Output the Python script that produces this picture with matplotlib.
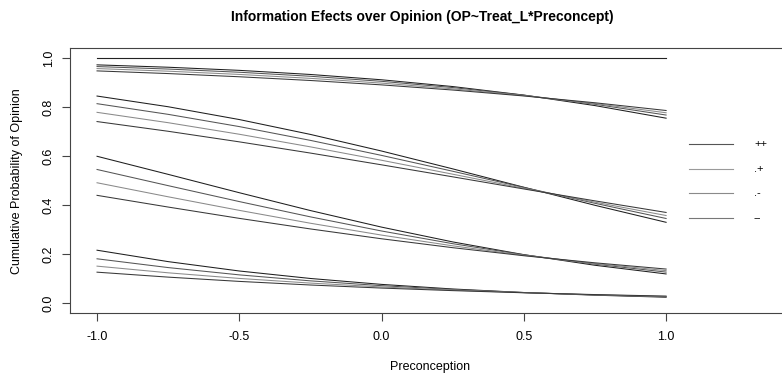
import matplotlib
matplotlib.use("Agg")
import matplotlib.pyplot as plt
from matplotlib.lines import Line2D

plt.rcParams['font.family'] = ['Liberation Sans', 'DejaVu Sans']

preconception = [-1.0, -0.75, -0.5, -0.25, 0.0, 0.25, 0.5, 0.75, 1.0]

groups = ["++", ".+", ".-", "--"]

# cumulative probabilities per threshold, per group
upper_bound = [1.0, 1.0, 1.0, 1.0, 1.0, 1.0, 1.0, 1.0, 1.0]

t1_pp = [0.9713, 0.9616, 0.9489, 0.9321, 0.9105, 0.8829, 0.8481, 0.8053, 0.7540]
t1_dp = [0.9644, 0.9542, 0.9412, 0.9248, 0.9042, 0.8788, 0.8477, 0.8107, 0.7668]
t1_dm = [0.9562, 0.9455, 0.9323, 0.9163, 0.8969, 0.8736, 0.8459, 0.8135, 0.7761]
t1_mm = [0.9467, 0.9358, 0.9228, 0.9076, 0.8897, 0.8687, 0.8445, 0.8168, 0.7853]

t2_pp = [0.8442, 0.8006, 0.7484, 0.6878, 0.6201, 0.5474, 0.4725, 0.3989, 0.3296]
t2_dp = [0.8131, 0.7696, 0.7197, 0.6635, 0.6023, 0.5377, 0.4718, 0.4071, 0.3452]
t2_dm = [0.7778, 0.7356, 0.6885, 0.6371, 0.5825, 0.5257, 0.4683, 0.4117, 0.3573]
t2_mm = [0.7402, 0.7006, 0.6575, 0.6118, 0.5639, 0.5150, 0.4655, 0.4170, 0.3698]

t3_pp = [0.5987, 0.5250, 0.4502, 0.3775, 0.3100, 0.2497, 0.1978, 0.1545, 0.1192]
t3_dp = [0.5449, 0.4790, 0.4141, 0.3518, 0.2942, 0.2425, 0.1973, 0.1590, 0.1267]
t3_dm = [0.4908, 0.4336, 0.3783, 0.3258, 0.2775, 0.2338, 0.1951, 0.1615, 0.1327]
t3_mm = [0.4395, 0.3918, 0.3457, 0.3026, 0.2625, 0.2262, 0.1934, 0.1645, 0.1391]

t4_pp = [0.2159, 0.1694, 0.1312, 0.1007, 0.0766, 0.0579, 0.0435, 0.0326, 0.0244]
t4_dp = [0.1809, 0.1451, 0.1154, 0.0910, 0.0714, 0.0558, 0.0434, 0.0337, 0.0261]
t4_dm = [0.1510, 0.1238, 0.1009, 0.0819, 0.0662, 0.0533, 0.0428, 0.0343, 0.0275]
t4_mm = [0.1264, 0.1062, 0.0888, 0.0741, 0.0616, 0.0512, 0.0424, 0.0351, 0.0289]

xticks = [-1.0, -0.5, 0.0, 0.5, 1.0]
yticks = [0.0, 0.2, 0.4, 0.6, 0.8, 1.0]

title = "Information Efects over Opinion (OP~Treat_L*Preconcept)"
xlabel = "Preconception"
ylabel = "Cumulative Probability of Opinion"

series_by_group = {
    "++": [t1_pp, t2_pp, t3_pp, t4_pp],
    ".+": [t1_dp, t2_dp, t3_dp, t4_dp],
    ".-": [t1_dm, t2_dm, t3_dm, t4_dm],
    "--": [t1_mm, t2_mm, t3_mm, t4_mm],
}
colors = {"++": "#1e1e1e", ".+": "#555555", ".-": "#8a8a8a", "--": "#383838"}
legend_colors = {"++": "#555555", ".+": "#9a9a9a", ".-": "#8a8a8a", "--": "#777777"}

W, H = 782, 376
fig = plt.figure(figsize=(W / 100, H / 100), dpi=100)
L, R, T, B = 70, 797, 48, 313
ax = fig.add_axes([L / W, (H - B) / H, (R - L) / W, (B - T) / H])

ax.plot(preconception, upper_bound, color="#222222", lw=0.8)
for g in groups:
    for s in series_by_group[g]:
        ax.plot(preconception, s, color=colors[g], lw=0.75)

ax.set_xlim(-1.095, 1.46)
ax.set_ylim(-0.04, 1.04)
ax.set_xticks(xticks)
ax.set_xticklabels(["%.1f" % v for v in xticks])
ax.set_yticks(yticks)
ax.set_yticklabels(["%.1f" % v for v in yticks], rotation=90, va="center")
ax.tick_params(axis="both", direction="out", length=6, width=0.8, color="#444444",
               labelsize=9, pad=7)
ax.tick_params(axis="y", pad=5)
for sp in ax.spines.values():
    sp.set_color("#444444")
    sp.set_linewidth(0.8)
ax.spines["right"].set_visible(False)

fig.text(422 / W, 1 - 17 / H, title, ha="center", va="center", fontsize=10, fontweight="bold")
fig.text(430 / W, 1 - 367 / H, xlabel, ha="center", va="center", fontsize=9)
fig.text(17 / W, 1 - 181 / H, ylabel, ha="center", va="center", fontsize=9, rotation=90)

leg_y = [144, 169, 193, 218]
for g, yy in zip(groups, leg_y):
    fig.add_artist(Line2D([689 / W, 733 / W], [1 - yy / H, 1 - yy / H],
                          transform=fig.transFigure, color=legend_colors[g], lw=0.8))
    fig.text(754 / W, 1 - yy / H, g, ha="left", va="center", fontsize=8)

fig.savefig("out.png", dpi=100)
